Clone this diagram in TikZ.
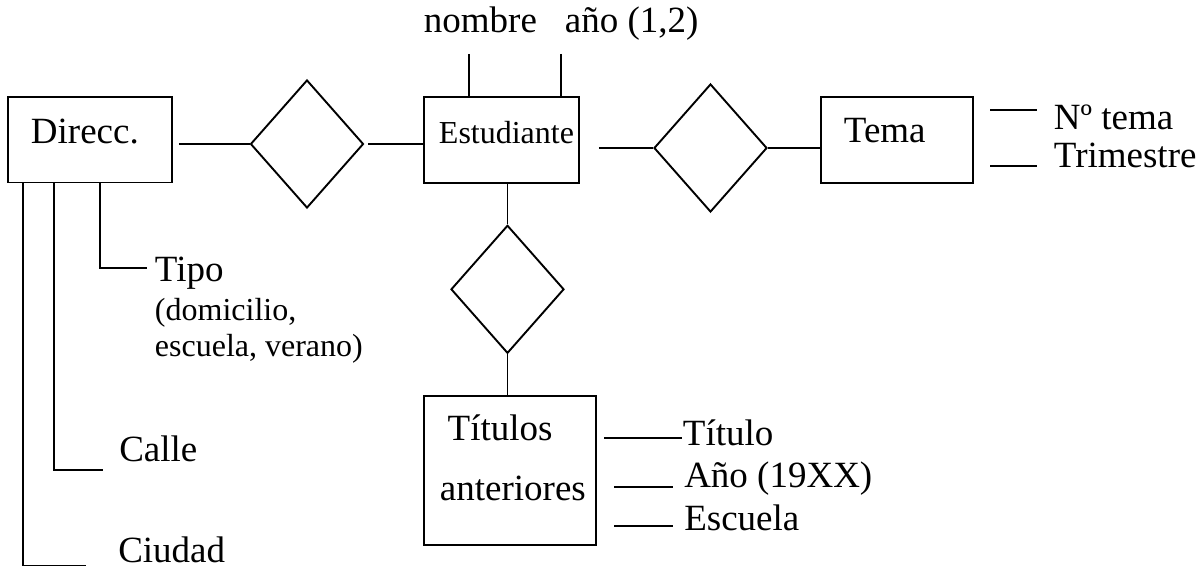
\documentclass[tikz,border=0pt]{standalone}
\usepackage{fontspec}
\setmainfont{Liberation Serif}
\usetikzlibrary{shapes.geometric}
\newcommand\fbig{\fontsize{37}{44}\selectfont}
\newcommand\fsml{\fontsize{32}{36}\selectfont}
\tikzset{
  ent/.style={draw, rectangle, inner sep=0pt},
  rel/.style={draw, diamond, inner sep=0pt, minimum width=113pt, minimum height=128pt},
  lbl/.style={inner sep=0pt, anchor=base west, font=\fbig},
  lbls/.style={inner sep=0pt, anchor=base west, font=\fsml},
}
\begin{document}
\begin{tikzpicture}[x=1pt, y=-1pt, line width=1.9pt]
\useasboundingbox (0,0) rectangle (1202,569);
% entities
\node[ent, minimum width=164pt, minimum height=85.5pt] (dir) at (90,139.75) {};
\node[ent, minimum width=155pt, minimum height=85.5pt] (est) at (501.5,140) {};
\node[ent, minimum width=152pt, minimum height=85.5pt] (tema) at (897,140) {};
\node[ent, minimum width=172pt, minimum height=149pt] (tit) at (510,470.5) {};
% relationships
\node[rel] (d1) at (307,144) {};
\node[rel] (d2) at (710.5,148) {};
\node[rel] (d3) at (507.5,289.3) {};
% texts inside boxes
\node[lbl] (tdir) at (30,143.3) {Direcc.};
\node[lbls] (test) at (438,143.3) {Estudiante};
\node[lbl] (ttema) at (843,142.7) {Tema};
\node[lbl] (ttit1) at (446.7,440) {Títulos};
\node[lbl] (ttit2) at (439,500.7) {anteriores};
% connectors
\draw[shorten <=6pt] (dir.east |- d1.west) -- (d1.west);
\draw[shorten <=4pt] (d1.east) -- (d1.east -| est.west);
\draw[shorten <=19pt] (est.east |- d2.west) -- (d2.west);
\draw (d2.east) -- (d2.east -| tema.west);
\draw (d3.north |- est.south) -- (d3.north);
\draw (d3.south) -- (d3.south |- tit.north);
% Estudiante attributes
\node[lbl] (anom) at (423,32.3) {nombre};
\node[lbl] (aano) at (564,32.3) {año (1,2)};
\coordinate (cnom) at (469,54);
\coordinate (cano) at (561,54);
\draw (cnom) -- (cnom |- est.north);
\draw (cano) -- (cano |- est.north);
% Direcc attributes
\coordinate (ctipo) at (146.7,267.7);
\coordinate (ccalle) at (103.3,470);
\coordinate (cciu) at (86,565.5);
\draw (dir.south -| 100,0) |- (ctipo);
\draw (dir.south -| 54,0) |- (ccalle);
\draw (dir.south -| 23.3,0) |- (cciu);
\node[lbl] (atipo) at (154,281.7) {Tipo};
\node[lbls] (atipo2) at (154,320) {(domicilio,};
\node[lbls] (atipo3) at (154,356) {escuela, verano)};
\node[lbl] (acalle) at (118.3,461.7) {Calle};
\node[lbl] (aciu) at (117.3,562.5) {Ciudad};
% Tema attributes
\coordinate (cnt1) at (990,110);
\coordinate (cnt2) at (1037,110);
\coordinate (ctr1) at (990,165.7);
\coordinate (ctr2) at (1037,165.7);
\draw (cnt1) -- (cnt2);
\draw (ctr1) -- (ctr2);
\node[lbl] (ant) at (1053,129.3) {Nº tema};
\node[lbl] (atr) at (1053,167.3) {Trimestre};
% Titulos attributes
\coordinate (ct1) at (604.3,438.3);
\coordinate (ct2) at (681.7,438.3);
\coordinate (ca1) at (614,486.7);
\coordinate (ca2) at (672.7,486.7);
\coordinate (ce1) at (614,525.7);
\coordinate (ce2) at (672.7,525.7);
\draw (ct1) -- (ct2);
\draw (ca1) -- (ca2);
\draw (ce1) -- (ce2);
\node[lbl] (atitulo) at (682,445) {Título};
\node[lbl] (aanio) at (683.3,487.3) {Año (19XX)};
\node[lbl] (aesc) at (683.3,530.7) {Escuela};
\end{tikzpicture}
\end{document}
